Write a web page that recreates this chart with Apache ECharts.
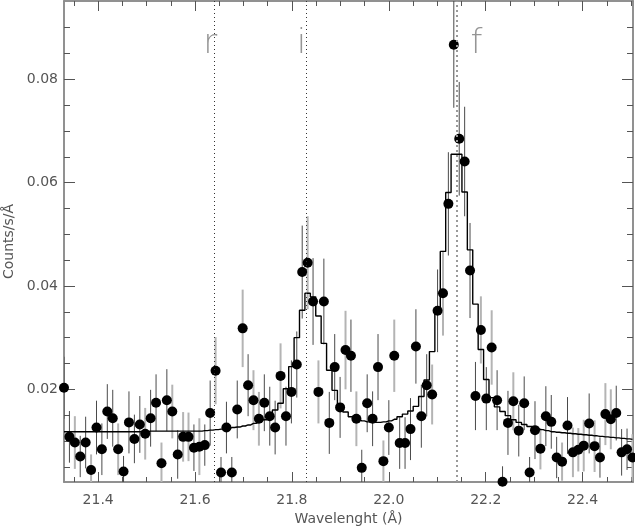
<!DOCTYPE html>
<html><head><meta charset="utf-8">
<script src="https://cdn.jsdelivr.net/npm/echarts@6/dist/echarts.min.js"></script>
<style>html,body{margin:0;padding:0;background:#fff}#c{width:635px;height:526px}</style>
</head><body><div id="c"></div>
<script>
const wavelength = [
21.3295,21.3407,21.3519,21.3630,21.3742,21.3854,21.3966,21.4077,21.4189,21.4301,
21.4413,21.4524,21.4636,21.4748,21.4860,21.4971,21.5083,21.5195,21.5307,21.5418,
21.5530,21.5642,21.5754,21.5865,21.5977,21.6089,21.6201,21.6312,21.6424,21.6536,
21.6648,21.6759,21.6871,21.6983,21.7095,21.7206,21.7318,21.7430,21.7542,21.7653,
21.7765,21.7877,21.7989,21.8100,21.8212,21.8324,21.8436,21.8547,21.8659,21.8771,
21.8883,21.8994,21.9106,21.9218,21.9330,21.9441,21.9553,21.9665,21.9777,21.9888,
22.0000,22.0112,22.0224,22.0335,22.0447,22.0559,22.0671,22.0782,22.0894,22.1006,
22.1118,22.1229,22.1341,22.1453,22.1565,22.1676,22.1788,22.1900,22.2012,22.2123,
22.2235,22.2347,22.2459,22.2570,22.2682,22.2794,22.2906,22.3017,22.3129,22.3241,
22.3353,22.3464,22.3576,22.3688,22.3800,22.3911,22.4023,22.4135,22.4247,22.4358,
22.4470,22.4582,22.4694,22.4805,22.4917,22.5029];
const counts = [
0.0203,0.0108,0.0097,0.0070,0.0097,0.0044,0.0126,0.0084,0.0157,0.0144,
0.0084,0.0041,0.0136,0.0104,0.0132,0.0114,0.0144,0.0174,0.0057,0.0179,
0.0157,0.0074,0.0108,0.0108,0.0087,0.0089,0.0092,0.0154,0.0236,0.0039,
0.0126,0.0039,0.0161,0.0318,0.0208,0.0179,0.0143,0.0174,0.0148,0.0126,
0.0226,0.0148,0.0195,0.0248,0.0427,0.0445,0.0370,0.0195,0.0370,0.0135,
0.0243,0.0165,0.0276,0.0265,0.0143,0.0048,0.0173,0.0143,0.0243,0.0061,
0.0126,0.0265,0.0096,0.0096,0.0123,0.0283,0.0148,0.0208,0.0190,0.0352,
0.0386,0.0559,0.0867,0.0685,0.0641,0.0430,0.0187,0.0315,0.0182,0.0281,
0.0179,0.0021,0.0135,0.0177,0.0120,0.0173,0.0039,0.0121,0.0085,0.0148,
0.0137,0.0068,0.0060,0.0130,0.0078,0.0083,0.0091,0.0134,0.0090,0.0068,
0.0152,0.0142,0.0154,0.0078,0.0084,0.0068];
const countErr = [
0.0060,0.0050,0.0051,0.0040,0.0050,0.0030,0.0052,0.0050,0.0053,0.0055,
0.0050,0.0030,0.0060,0.0047,0.0055,0.0050,0.0055,0.0055,0.0040,0.0060,
0.0052,0.0047,0.0048,0.0047,0.0045,0.0055,0.0040,0.0063,0.0065,0.0030,
0.0050,0.0030,0.0056,0.0075,0.0060,0.0058,0.0052,0.0055,0.0057,0.0052,
0.0063,0.0057,0.0061,0.0064,0.0090,0.0090,0.0084,0.0061,0.0083,0.0060,
0.0064,0.0059,0.0076,0.0070,0.0053,0.0035,0.0056,0.0053,0.0064,0.0040,
0.0053,0.0070,0.0050,0.0050,0.0060,0.0072,0.0061,0.0060,0.0058,0.0080,
0.0082,0.0100,0.0122,0.0110,0.0106,0.0092,0.0066,0.0065,0.0061,0.0072,
0.0058,0.0030,0.0062,0.0056,0.0050,0.0052,0.0030,0.0056,0.0040,0.0058,
0.0052,0.0040,0.0037,0.0055,0.0048,0.0042,0.0050,0.0058,0.0050,0.0039,
0.0060,0.0058,0.0053,0.0045,0.0040,0.0045];
const instrument = [
1,1,2,1,1,2,1,1,1,1, 2,1,1,1,1,2,1,1,2,1, 2,1,2,2,1,2,1,1,2,1,
1,1,1,2,1,2,2,1,1,1, 2,1,1,1,1,2,1,2,1,1, 1,1,2,1,2,1,1,1,1,2,
1,2,1,1,1,1,1,1,2,1, 2,1,1,1,1,1,1,2,1,2, 1,1,1,2,1,1,1,1,2,1,
1,1,2,1,2,2,2,1,2,1, 2,2,1,1,1,2];
const model = [
0.0118,0.0118,0.0118,0.0118,0.0118,0.0118,0.0118,0.0118,0.0118,0.0118,
0.0118,0.0118,0.0118,0.0118,0.0118,0.0118,0.0119,0.0119,0.0119,0.0119,
0.0119,0.0119,0.0119,0.0119,0.0119,0.0119,0.0120,0.0121,0.0122,0.0123,
0.0124,0.0126,0.0127,0.0129,0.0131,0.0134,0.0137,0.0141,0.0150,0.0160,
0.0173,0.0201,0.0244,0.0300,0.0353,0.0386,0.0379,0.0342,0.0289,0.0237,
0.0198,0.0171,0.0156,0.0147,0.0142,0.0139,0.0137,0.0136,0.0136,0.0137,
0.0139,0.0142,0.0147,0.0152,0.0158,0.0167,0.0186,0.0218,0.0273,0.0350,
0.0467,0.0581,0.0655,0.0655,0.0582,0.0470,0.0365,0.0277,0.0219,0.0184,
0.0166,0.0157,0.0149,0.0141,0.0136,0.0132,0.0128,0.0125,0.0122,0.0120,
0.0118,0.0117,0.0116,0.0115,0.0114,0.0113,0.0112,0.0111,0.0110,0.0109,
0.0108,0.0107,0.0106,0.0105,0.0104,0.0103];
const lineNames = ['r', 'i', 'f'];
const lineWavelengths = [21.6415, 21.8302, 22.1439];
const xMajorTicks = [21.4, 21.6, 21.8, 22.0, 22.2, 22.4];
const xMinorTicks = [21.35,21.45,21.5,21.55,21.65,21.7,21.75,21.85,21.9,21.95,22.05,22.1,22.15,22.25,22.3,22.35,22.45,22.5];
const yMajorTicks = [0.02, 0.04, 0.06, 0.08];
const yMinorTicks = [0.005,0.01,0.015,0.025,0.03,0.035,0.045,0.05,0.055,0.065,0.07,0.075,0.085,0.09];

const X_MIN = 21.3295, X_MAX = 22.504, Y_MIN = 0.00206, Y_MAX = 0.09517;
const FONT = 'DejaVu Sans';
const AXIS_COL = '#8a8a8a', TICK_COL = '#555';

function xAx(pos, ticks, len, labels, name) {
  return {
    type: 'value', position: pos, min: X_MIN, max: X_MAX, gridIndex: 0,
    name: name || '', nameLocation: 'middle', nameGap: 25,
    nameTextStyle: {fontFamily: FONT, fontSize: 14, color: '#555'},
    axisLine: {show: true, onZero: false, lineStyle: {color: AXIS_COL, width: 1.5}},
    axisTick: {show: true, inside: true, length: len, customValues: ticks, lineStyle: {color: TICK_COL, width: 1}},
    axisLabel: labels ? {show: true, customValues: ticks, margin: 11, fontFamily: FONT, fontSize: 14, color: '#555',
      formatter: v => v.toFixed(1)} : {show: false},
    splitLine: {show: false}
  };
}
function yAx(pos, ticks, len, labels, name) {
  return {
    type: 'value', position: pos, min: Y_MIN, max: Y_MAX, gridIndex: 0,
    name: name || '', nameLocation: 'middle', nameGap: 48, nameRotate: 90,
    nameTextStyle: {fontFamily: FONT, fontSize: 14, color: '#555'},
    axisLine: {show: true, onZero: false, lineStyle: {color: AXIS_COL, width: 1.5}},
    axisTick: {show: true, inside: true, length: len, customValues: ticks, lineStyle: {color: TICK_COL, width: 1}},
    axisLabel: labels ? {show: true, customValues: ticks, margin: 6, fontFamily: FONT, fontSize: 14, color: '#555',
      formatter: v => v.toFixed(2)} : {show: false},
    splitLine: {show: false}
  };
}

const chart = echarts.init(document.getElementById('c'), null, {renderer: 'canvas'});
chart.setOption({
  animation: false,
  backgroundColor: '#fff',
  grid: {left: 64, right: 2, top: 1, bottom: 44, containLabel: false, outerBoundsMode: 'none'},
  xAxis: [
    xAx('bottom', xMajorTicks, 10, true, 'Wavelenght (Å)'),
    xAx('bottom', xMinorTicks, 5, false),
    xAx('top', xMajorTicks, 10, false),
    xAx('top', xMinorTicks, 5, false)
  ],
  yAxis: [
    yAx('left', yMajorTicks, 11, true, 'Counts/s/Å'),
    yAx('left', yMinorTicks, 6, false),
    yAx('right', yMajorTicks, 11, false),
    yAx('right', yMinorTicks, 6, false)
  ],
  series: [
    {
      name: 'lines', type: 'line', data: [], xAxisIndex: 0, yAxisIndex: 0,
      markLine: {
        silent: true, symbol: 'none', label: {show: false}, animation: false,
        data: lineWavelengths.map((w, i) => ({
          xAxis: w,
          lineStyle: i === 2 ? {color: '#9a9a9a', type: [2, 3], width: 2} : {color: '#333', type: [1, 3], width: 1}
        }))
      }
    },
    {
      name: 'errors', type: 'custom', xAxisIndex: 0, yAxisIndex: 0, clip: true, z: 2,
      encode: {x: 0, y: [1, 2]},
      data: wavelength.map((w, i) => [w, counts[i] - countErr[i], counts[i] + countErr[i], instrument[i]]),
      renderItem(params, api) {
        const x = api.value(0), lo = api.value(1), hi = api.value(2), g = api.value(3);
        const p1 = api.coord([x, lo]), p2 = api.coord([x, hi]);
        const cs = params.coordSys;
        const top = Math.max(p2[1], cs.y), bot = Math.min(p1[1], cs.y + cs.height);
        return {type: 'line', shape: {x1: p1[0], y1: bot, x2: p1[0], y2: top},
          style: {stroke: g === 2 ? '#b4b4b4' : '#4a4a4a', lineWidth: g === 2 ? 2 : 1}};
      }
    },
    {
      name: 'model', type: 'line', step: 'middle', xAxisIndex: 0, yAxisIndex: 0, z: 3,
      showSymbol: false, symbol: 'none',
      data: wavelength.map((w, i) => [w, model[i]]),
      lineStyle: {color: '#000', width: 1.4}
    },
    {
      name: 'counts', type: 'scatter', xAxisIndex: 0, yAxisIndex: 0, z: 4, clip: true,
      symbol: 'circle', symbolSize: 10,
      itemStyle: {color: '#000', opacity: 1},
      data: wavelength.map((w, i) => [w, counts[i]])
    },
    {
      name: 'lineLabels', type: 'scatter', xAxisIndex: 0, yAxisIndex: 0, z: 5,
      symbolSize: 0, silent: true,
      data: lineNames.map((n, i) => ({name: n, value: [lineWavelengths[i], 0.0876]})),
      label: {
        show: true, position: 'inside', formatter: p => p.name,
        fontFamily: FONT, fontWeight: 200, fontSize: 34, color: '#7a7a7a'
      },
      labelLayout: p => {
        const off = [-5, -5, 18][p.dataIndex];
        return {dx: off, dy: 4};
      }
    }
  ]
});
</script>
</body></html>
